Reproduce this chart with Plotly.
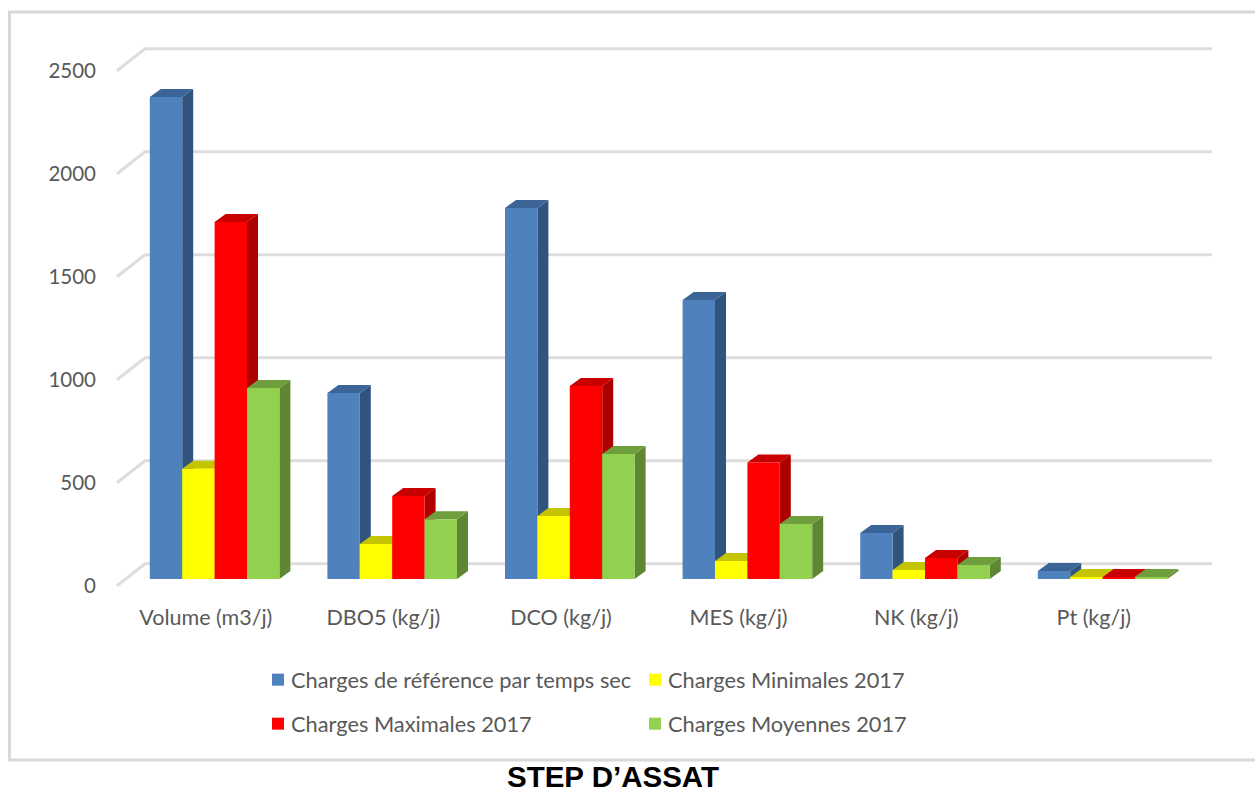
import plotly.graph_objects as go

categories = ["Volume (m3/j)", "DBO5 (kg/j)", "DCO (kg/j)", "MES (kg/j)", "NK (kg/j)", "Pt (kg/j)"]
reference = [2340, 903, 1801, 1354, 223, 39]
minimales = [535, 170, 306, 87, 44, 10]
maximales = [1733, 403, 937, 565, 102, 10]
moyennes = [927, 290, 607, 267, 68, 10]
names = ["Charges de référence par temps sec", "Charges Minimales 2017",
         "Charges Maximales 2017", "Charges Moyennes 2017"]
values = [reference, minimales, maximales, moyennes]
front = ["#4F81BD", "#FFFF00", "#FF0000", "#92D050"]
side = ["#31547F", "#C4C400", "#AF0000", "#5F8633"]
top = ["#3B6596", "#C4C400", "#C80000", "#6F9E3C"]
grid_values = [0, 500, 1000, 1500, 2000, 2500]

W, H = 1255, 787
PX_X = 177.6        # pixels per category
PX_Y = 0.206        # pixels per unit
X0_PX, Y0_PX = 205.8, 585.7
xr = [-X0_PX / PX_X, (W - X0_PX) / PX_X]
yr = [-(H - Y0_PX) / PX_Y, Y0_PX / PX_Y]
dxu = lambda p: p / PX_X
dyu = lambda p: p / PX_Y

BAR_W = dxu(32.4)
SHIFT = dxu(8.8)      # bars stand a little behind the front plane
BASE = dyu(6.7)
DX, DY = dxu(11), dyu(8)

fig = go.Figure()

# walls' gridlines
gx, gy = [], []
for v in grid_values:
    gx += [-0.5, -0.5 + dxu(28), -0.5 + dxu(1095), None]
    gy += [v, v + dyu(22), v + dyu(22), None]
fig.add_trace(go.Scatter(x=gx, y=gy, mode="lines", line=dict(color="#DDDDDD", width=3),
                         showlegend=False, hoverinfo="skip"))

# depth faces, left to right
for s, vals in enumerate(values):
    sx, sy, tx, ty = [], [], [], []
    for i, v in enumerate(vals):
        l = i + SHIFT - 2 * BAR_W + s * BAR_W
        r = l + BAR_W
        h = BASE + v
        sx += [r, r + DX, r + DX, r, r, None]
        sy += [BASE, BASE + DY, h + DY, h, BASE, None]
        tx += [l, r, r + DX, l + DX, l, None]
        ty += [h, h, h + DY, h + DY, h, None]
    fig.add_trace(go.Scatter(x=sx, y=sy, mode="lines", fill="toself", fillcolor=side[s],
                             line=dict(width=0), showlegend=False, hoverinfo="skip"))
    fig.add_trace(go.Scatter(x=tx, y=ty, mode="lines", fill="toself", fillcolor=top[s],
                             line=dict(width=0), showlegend=False, hoverinfo="skip"))

# front faces, on the overlaying axes
LEG = [(263, 680), (640, 680), (263, 724), (640, 724)]
for s, vals in enumerate(values):
    lname = "legend" if s == 0 else f"legend{s + 1}"
    fig.add_trace(go.Bar(x=[i + SHIFT for i in range(len(categories))], y=vals, base=BASE,
                         name=names[s], marker=dict(color=front[s], line=dict(width=0)),
                         xaxis="x2", yaxis="y2", legend=lname))

FONT = "Lato"
GREY = "#595959"
legends = {}
for s, (px, py) in enumerate(LEG):
    key = "legend" if s == 0 else f"legend{s + 1}"
    legends[key] = dict(x=(px - 5) / W, y=1 - py / H, xanchor="left", yanchor="middle",
                        bgcolor="rgba(0,0,0,0)", font=dict(family=FONT, size=21.8, color=GREY),
                        borderwidth=0, itemclick=False, itemdoubleclick=False)

fig.update_layout(
    width=W, height=H, margin=dict(l=0, r=0, t=0, b=0),
    paper_bgcolor="white", plot_bgcolor="white",
    barmode="group", bargap=1 - 4 * BAR_W, bargroupgap=0,
    hovermode=False,
    xaxis=dict(range=xr, domain=[0, 1], anchor="free", position=(H - Y0_PX) / H,
               tickmode="array", tickvals=list(range(len(categories))), ticktext=categories,
               showgrid=False, zeroline=False, showline=False, ticks="", ticklabelstandoff=17,
               tickfont=dict(family=FONT, size=21.5, color=GREY)),
    yaxis=dict(range=yr, domain=[0, 1], anchor="free", position=117 / W,
               tickmode="array", tickvals=grid_values, ticktext=[str(v) for v in grid_values],
               showgrid=False, zeroline=False, showline=False, ticks="", ticklabelstandoff=21,
               tickfont=dict(family=FONT, size=20.5, color=GREY)),
    xaxis2=dict(overlaying="x", matches="x", visible=False),
    yaxis2=dict(overlaying="y", matches="y", visible=False),
    shapes=[dict(type="rect", xref="paper", yref="paper", x0=9.5 / W, x1=1.02,
                 y0=1 - 760 / H, y1=1 - 12 / H, line=dict(color="#D9D9D9", width=3),
                 layer="below")],
    annotations=[dict(text="<b>STEP D’ASSAT</b>", xref="paper", yref="paper",
                      x=613 / W, y=1 - 776.5 / H, xanchor="center", yanchor="middle",
                      showarrow=False, font=dict(family="Liberation Sans", size=29.5, color="black"))],
    **legends,
)

fig.write_html("out.html", config={"displayModeBar": False},
               post_script="document.body.style.margin='0';"
                           "var st=document.createElement('style');"
                           "st.textContent='.legendtext,.legend2text,.legend3text,.legend4text"
                           "{transform:translateX(-7px)}';"
                           "document.head.appendChild(st);")
